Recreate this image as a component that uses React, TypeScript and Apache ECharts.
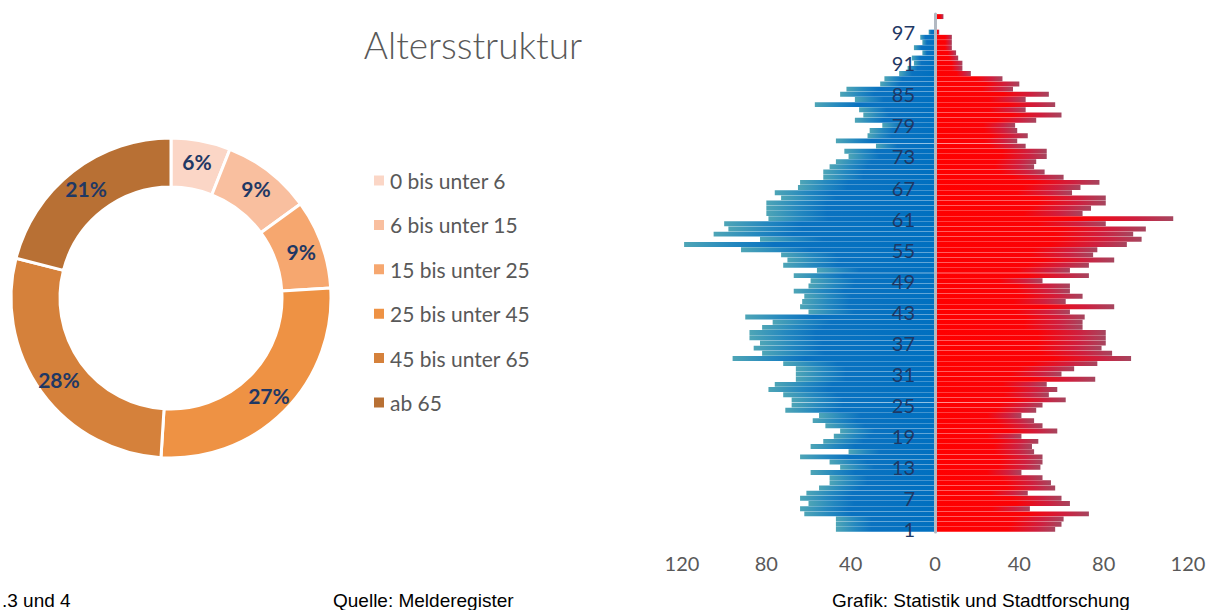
import React, { useEffect, useRef } from 'react';
import * as echarts from 'echarts';

// Age categories (y axis of the pyramid)
const ageCategories = [
  '1','2','3','4','5','6','7','8','9','10',
  '11','12','13','14','15','16','17','18','19','20',
  '21','22','23','24','25','26','27','28','29','30',
  '31','32','33','34','35','36','37','38','39','40',
  '41','42','43','44','45','46','47','48','49','50',
  '51','52','53','54','55','56','57','58','59','60',
  '61','62','63','64','65','66','67','68','69','70',
  '71','72','73','74','75','76','77','78','79','80',
  '81','82','83','84','85','86','87','88','89','90',
  '91','92','93','94','95','96','97','98','99','100',
];

// Left side (blue), persons per age year
const maleCounts = [
  47, 47, 47, 62, 64, 60, 64, 61, 55, 50,
  50, 59, 45, 50, 64, 41, 59, 53, 48, 45,
  52, 58, 55, 71, 68, 68, 72, 79, 76, 66,
  66, 66, 72, 96, 82, 86, 83, 88, 88, 82,
  77, 90, 60, 64, 63, 62, 67, 60, 59, 67,
  56, 72, 70, 73, 92, 119, 83, 105, 98, 100,
  79, 80, 80, 80, 73, 76, 65, 64, 53, 53,
  50, 47, 41, 43, 28, 47, 32, 31, 25, 38,
  34, 36, 57, 38, 45, 42, 26, 24, 17, 13,
  10, 11, 6, 10, 6, 7, 3, 0, 0, 0,
];

// Right side (red), persons per age year
const femaleCounts = [
  57, 60, 61, 73, 45, 64, 60, 44, 57, 55,
  51, 41, 50, 51, 51, 47, 46, 49, 41, 58,
  51, 47, 41, 48, 51, 62, 54, 58, 53, 76,
  60, 66, 77, 93, 84, 79, 81, 81, 81, 70,
  70, 71, 64, 85, 62, 70, 64, 64, 51, 73,
  64, 73, 85, 75, 77, 91, 98, 94, 100, 81,
  113, 70, 74, 81, 81, 65, 69, 78, 61, 52,
  47, 48, 53, 53, 43, 39, 44, 39, 38, 48,
  60, 43, 57, 43, 54, 37, 40, 32, 17, 13,
  13, 11, 10, 8, 8, 8, 2, 0, 0, 4,
];

// Donut: age groups and their shares (%)
const ageGroups = [
  '0 bis unter 6',
  '6 bis unter 15',
  '15 bis unter 25',
  '25 bis unter 45',
  '45 bis unter 65',
  'ab 65',
];
const ageGroupShares = [6, 9, 9, 27, 28, 21];

const titleText = 'Altersstruktur';
const footerLeft = '.3 und 4';
const footerMiddle = 'Quelle: Melderegister';
const footerRight = 'Grafik: Statistik und Stadtforschung';

// styles
const groupColors = ['#fbd6c6', '#f9bf9f', '#f6a76f', '#ee9244', '#d5813b', '#b87034'];

export default function App() {
  const ref = useRef<HTMLDivElement>(null);

  useEffect(() => {
    if (!ref.current) return;
    const chart = echarts.init(ref.current, null, { renderer: 'svg' });

    const maleGrad = new echarts.graphic.LinearGradient(0, 0, 1, 0, [
      { offset: 0, color: '#4ea5b6' },
      { offset: 0.2, color: '#2387bf' },
      { offset: 0.36, color: '#0a72c0' },
      { offset: 1, color: '#0070c0' },
    ]);
    const femaleGrad = new echarts.graphic.LinearGradient(0, 0, 1, 0, [
      { offset: 0, color: '#f00010' },
      { offset: 0.03, color: '#ff0000' },
      { offset: 0.6, color: '#fb0206' },
      { offset: 0.84, color: '#cf1f3e' },
      { offset: 1, color: '#a6465f' },
    ]);

    chart.setOption({
      animation: false,
      backgroundColor: '#ffffff',
      grid: {
        left: 682,
        width: 506,
        top: 14,
        height: 518,
        containLabel: false,
        outerBoundsMode: 'none',
      },
      legend: {
        show: true,
        orient: 'vertical',
        left: 372,
        top: 170,
        padding: 0,
        itemWidth: 12,
        itemHeight: 12,
        itemGap: 23.4,
        icon: 'rect',
        selectedMode: false,
        data: ageGroups,
        textStyle: {
          color: '#595959',
          fontSize: 21,
          fontFamily: 'Lato',
          lineHeight: 21,
        },
      },
      xAxis: {
        type: 'value',
        min: -120,
        max: 120,
        interval: 40,
        axisLine: { show: false },
        axisTick: { show: false },
        splitLine: { show: false },
        axisLabel: {
          formatter: (v: number) => String(Math.abs(v)),
          color: '#595959',
          fontSize: 20,
          fontFamily: 'Lato',
          margin: 21,
        },
      },
      yAxis: {
        type: 'category',
        data: ageCategories,
        z: 10,
        offset: -253,
        axisLine: {
          show: true,
          onZero: false,
          lineStyle: { color: '#b3b9c2', width: 3 },
        },
        axisTick: { show: false },
        splitLine: { show: false },
        axisLabel: {
          interval: (i: number) => i % 6 === 0,
          color: '#1f3864',
          fontSize: 20,
          fontFamily: 'Lato',
          margin: 20,
        },
      },
      series: [
        {
          name: 'links',
          type: 'bar',
          data: maleCounts.map((v) => -v),
          barCategoryGap: '5%',
          barGap: '-100%',
          itemStyle: { color: maleGrad },
          emphasis: { disabled: true },
          silent: true,
        },
        {
          name: 'rechts',
          type: 'bar',
          data: femaleCounts,
          barCategoryGap: '5%',
          barGap: '-100%',
          itemStyle: { color: femaleGrad },
          emphasis: { disabled: true },
          silent: true,
        },
        {
          name: 'Altersstruktur',
          type: 'pie',
          center: [171, 298],
          radius: [111, 160],
          startAngle: 90,
          clockwise: true,
          avoidLabelOverlap: false,
          silent: true,
          itemStyle: { borderColor: '#ffffff', borderWidth: 3 },
          label: {
            show: true,
            position: 'inside',
            formatter: (p: any) => Math.round(p.percent) + '%',
            color: '#1f3864',
            fontWeight: 'bold',
            fontSize: 21,
            fontFamily: 'Lato',
          },
          labelLine: { show: false },
          emphasis: { disabled: true },
          data: ageGroups.map((name, i) => ({
            name,
            value: ageGroupShares[i],
            itemStyle: { color: groupColors[i] },
          })),
        },
      ],
      graphic: [
        {
          type: 'text',
          x: 473,
          y: 44,
          style: {
            text: titleText,
            fontSize: 37,
            fontFamily: 'Lato',
            fontWeight: 300,
            fill: '#595959',
            align: 'center',
            verticalAlign: 'middle',
          },
        },
        {
          type: 'text',
          x: 2,
          y: 600,
          style: {
            text: footerLeft,
            fontSize: 19,
            fontFamily: 'Liberation Sans',
            fill: '#000000',
            align: 'left',
            verticalAlign: 'middle',
          },
        },
        {
          type: 'text',
          x: 333,
          y: 600,
          style: {
            text: footerMiddle,
            fontSize: 19,
            fontFamily: 'Liberation Sans',
            fill: '#000000',
            align: 'left',
            verticalAlign: 'middle',
          },
        },
        {
          type: 'text',
          x: 832,
          y: 600,
          style: {
            text: footerRight,
            fontSize: 19,
            fontFamily: 'Liberation Sans',
            fill: '#000000',
            align: 'left',
            verticalAlign: 'middle',
          },
        },
      ],
    });

    return () => {
      chart.dispose();
    };
  }, []);

  return (
    <div
      ref={ref}
      style={{ position: 'absolute', left: 0, top: 0, width: 1216, height: 610 }}
    />
  );
}
